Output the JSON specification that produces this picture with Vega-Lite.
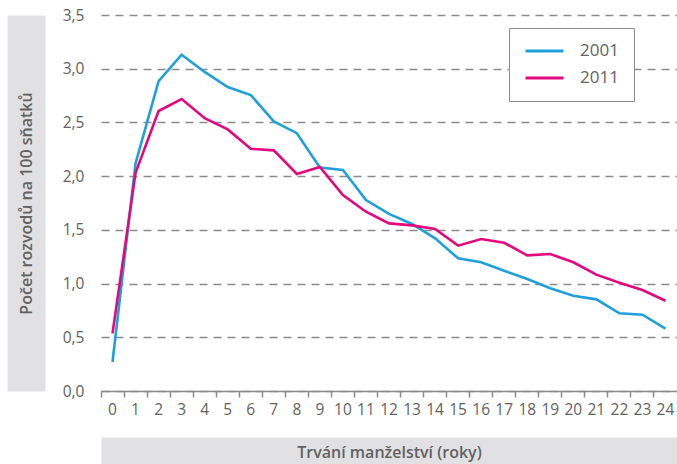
{
  "$schema": "https://vega.github.io/schema/vega-lite/v6.json",
  "width": 576,
  "height": 376,
  "autosize": {"type": "none"},
  "padding": {"left": 101, "top": 15, "right": 0, "bottom": 73},
  "background": "white",
  "config": {
    "view": {"stroke": null},
    "font": "Open Sans",
    "axis": {"labelColor": "#626262", "titleColor": "#626262", "labelFont": "Open Sans", "titleFont": "Open Sans"},
    "legend": {"labelFont": "Open Sans", "labelColor": "#626262"}
  },
  "data": {
    "values": [
      {"t": 0, "year": "2001", "v": 0.27}, {"t": 1, "year": "2001", "v": 2.12}, {"t": 2, "year": "2001", "v": 2.885},
      {"t": 3, "year": "2001", "v": 3.13}, {"t": 4, "year": "2001", "v": 2.97}, {"t": 5, "year": "2001", "v": 2.83},
      {"t": 6, "year": "2001", "v": 2.755}, {"t": 7, "year": "2001", "v": 2.51}, {"t": 8, "year": "2001", "v": 2.4},
      {"t": 9, "year": "2001", "v": 2.08}, {"t": 10, "year": "2001", "v": 2.057}, {"t": 11, "year": "2001", "v": 1.778},
      {"t": 12, "year": "2001", "v": 1.648}, {"t": 13, "year": "2001", "v": 1.555}, {"t": 14, "year": "2001", "v": 1.421},
      {"t": 15, "year": "2001", "v": 1.235}, {"t": 16, "year": "2001", "v": 1.198}, {"t": 17, "year": "2001", "v": 1.12},
      {"t": 18, "year": "2001", "v": 1.043}, {"t": 19, "year": "2001", "v": 0.956}, {"t": 20, "year": "2001", "v": 0.887},
      {"t": 21, "year": "2001", "v": 0.853}, {"t": 22, "year": "2001", "v": 0.723}, {"t": 23, "year": "2001", "v": 0.71},
      {"t": 24, "year": "2001", "v": 0.58},
      {"t": 0, "year": "2011", "v": 0.537}, {"t": 1, "year": "2011", "v": 2.03}, {"t": 2, "year": "2011", "v": 2.606},
      {"t": 3, "year": "2011", "v": 2.718}, {"t": 4, "year": "2011", "v": 2.54}, {"t": 5, "year": "2011", "v": 2.435},
      {"t": 6, "year": "2011", "v": 2.255}, {"t": 7, "year": "2011", "v": 2.24}, {"t": 8, "year": "2011", "v": 2.02},
      {"t": 9, "year": "2011", "v": 2.085}, {"t": 10, "year": "2011", "v": 1.824}, {"t": 11, "year": "2011", "v": 1.669},
      {"t": 12, "year": "2011", "v": 1.56}, {"t": 13, "year": "2011", "v": 1.542}, {"t": 14, "year": "2011", "v": 1.508},
      {"t": 15, "year": "2011", "v": 1.353}, {"t": 16, "year": "2011", "v": 1.415}, {"t": 17, "year": "2011", "v": 1.38},
      {"t": 18, "year": "2011", "v": 1.263}, {"t": 19, "year": "2011", "v": 1.275}, {"t": 20, "year": "2011", "v": 1.198},
      {"t": 21, "year": "2011", "v": 1.083}, {"t": 22, "year": "2011", "v": 1.008}, {"t": 23, "year": "2011", "v": 0.94},
      {"t": 24, "year": "2011", "v": 0.84}
    ]
  },
  "resolve": {"axis": {"x": "independent", "y": "independent"}},
  "layer": [
    {
      "mark": {"type": "point", "opacity": 0},
      "encoding": {
        "x": {
          "field": "t", "type": "ordinal",
          "scale": {"type": "band", "paddingInner": 0, "paddingOuter": 0},
          "axis": {
            "orient": "bottom", "offset": 60, "domainWidth": 28, "domainColor": "#e1e1e3",
            "labels": false, "ticks": false, "grid": false,
            "title": "Trvání manželství (roky)", "titleX": 288, "titleY": 1,
            "titleBaseline": "middle", "titleAlign": "center", "titleAnchor": null,
            "titleFontSize": 16, "titleFontWeight": 600
          }
        },
        "y": {
          "field": "v", "type": "quantitative",
          "scale": {"domain": [0, 3.5], "nice": false, "zero": true},
          "axis": {
            "orient": "left", "offset": 75, "domainWidth": 38, "domainColor": "#e1e1e3",
            "labels": false, "ticks": false, "grid": false,
            "title": "Počet rozvodů na 100 sňatků", "titleX": 0, "titleY": 188,
            "titleAngle": 270, "titleBaseline": "middle", "titleAlign": "center", "titleAnchor": null,
            "titleFontSize": 16, "titleFontWeight": 600
          }
        }
      }
    },
    {
      "mark": {"type": "line", "strokeWidth": 2.6},
      "encoding": {
        "x": {
          "field": "t", "type": "ordinal",
          "axis": {
            "orient": "bottom", "title": null, "bandPosition": 0, "labelAngle": 0,
            "domainColor": "#8a8a8a", "domainWidth": 1.5,
            "tickColor": "#8a8a8a", "tickWidth": 1.5, "tickSize": 6,
            "labelFontSize": 15.5, "labelPadding": 5, "grid": false
          }
        },
        "y": {
          "field": "v", "type": "quantitative",
          "axis": {
            "orient": "left", "title": null, "values": [0, 0.5, 1, 1.5, 2, 2.5, 3, 3.5],
            "labelExpr": "replace(format(datum.value, '.1f'), '.', ',')",
            "domain": false, "ticks": false, "labelPadding": 17, "labelFontSize": 15.5,
            "grid": true, "gridDash": [8, 6], "gridColor": "#8a8a8a", "gridWidth": 1.3
          }
        },
        "color": {
          "field": "year", "type": "nominal",
          "scale": {"domain": ["2001", "2011"], "range": ["#1fa0da", "#e4087e"]},
          "legend": {
            "title": null, "orient": "none", "legendX": 408, "legendY": 13,
            "strokeColor": "#8c8c8c", "fillColor": "white", "padding": 15,
            "symbolType": "stroke", "symbolSize": 1444, "symbolStrokeWidth": 3,
            "clipHeight": 16,
            "labelFontSize": 17, "labelOffset": 15, "rowPadding": 10
          }
        }
      }
    }
  ]
}
